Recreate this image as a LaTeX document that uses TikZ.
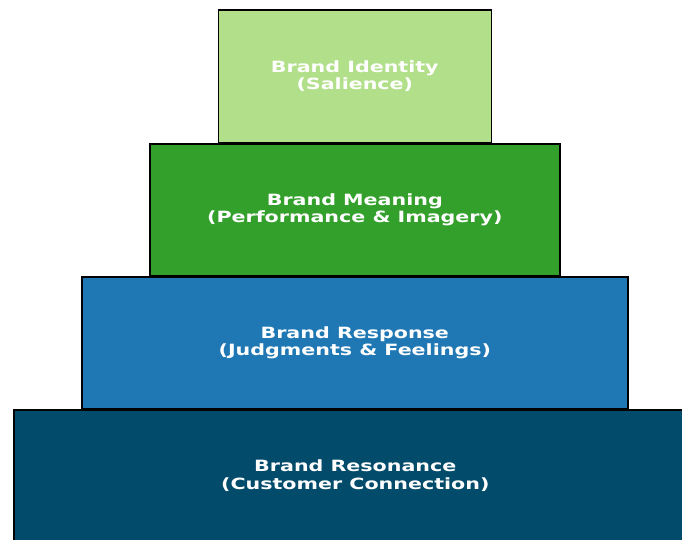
\documentclass[tikz,border=0pt]{standalone}
\usepackage{fontspec}
\newfontfamily\lblfont[FakeStretch=1.33]{DejaVu Sans Bold}
\definecolor{tierA}{HTML}{B2DF8A}
\definecolor{tierB}{HTML}{33A02C}
\definecolor{tierC}{HTML}{1F78B4}
\definecolor{tierD}{HTML}{034B6B}
\begin{document}
\begin{tikzpicture}[x=1pt,y=-1pt,
  tier/.style={draw=black,line width=1.6pt,anchor=north west,inner sep=0pt,
    text=white,align=center,font=\lblfont\fontsize{15.5}{17.5}\selectfont}]
\useasboundingbox (0,0) rectangle (682,540);
\begin{scope}
\clip (0,0) rectangle (682,540);
% four tiers, widest at the bottom, each 133pt tall
\node[tier,fill=tierD,minimum width=683pt,minimum height=132pt] (resonance) at (13,409)
  {Brand Resonance\\(Customer Connection)};
\node[tier,fill=tierC,minimum width=546pt,minimum height=132pt] (response) at (81,276)
  {Brand Response\\(Judgments \& Feelings)};
\node[tier,fill=tierB,minimum width=410pt,minimum height=132pt] (meaning) at (149,143)
  {Brand Meaning\\(Performance \& Imagery)};
\node[tier,fill=tierA,minimum width=273pt,minimum height=133pt] (identity) at (217.5,9)
  {Brand Identity\\(Salience)};
\end{scope}
\end{tikzpicture}
\end{document}
